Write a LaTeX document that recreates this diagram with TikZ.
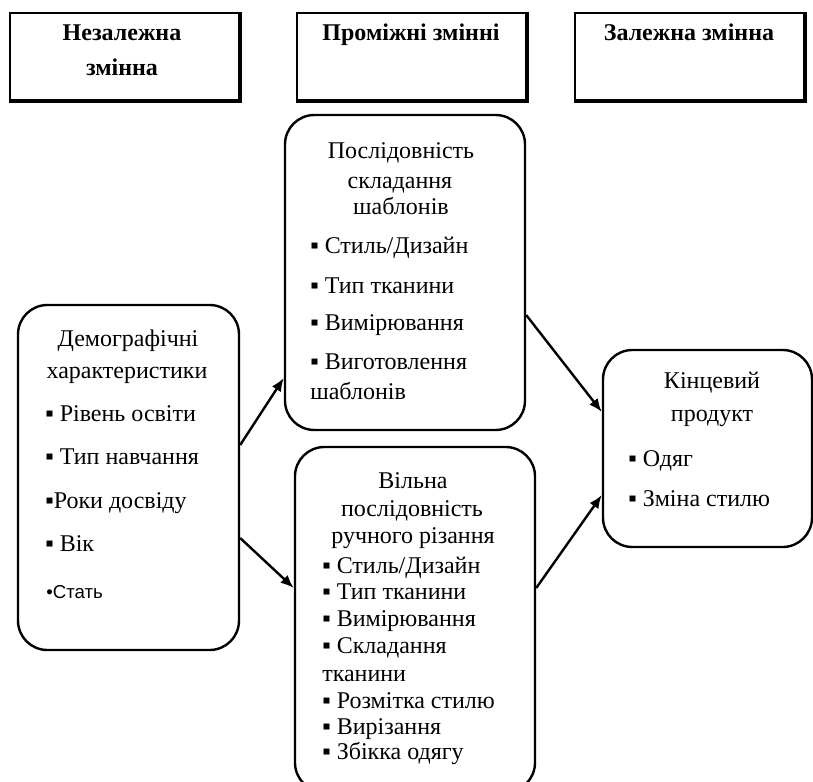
\documentclass[tikz,border=0pt]{standalone}
\usepackage{fontspec}
\setmainfont{Liberation Serif}
\newfontfamily\smallsans{Liberation Sans}
\usetikzlibrary{fit,arrows.meta}
\tikzset{
 headbox/.style={draw,line width=1.6pt,inner sep=0pt},
 roundbox/.style={draw,line width=1.8pt,rounded corners=22pt,inner sep=0pt},
 head/.style={font=\fontsize{18}{20}\selectfont\bfseries,inner sep=0pt,text height=12.6pt,text depth=3.6pt},
 txt/.style={font=\fontsize{18}{20}\selectfont,inner sep=0pt,text height=12.6pt,text depth=3.6pt},
 item/.style={txt,anchor=west},
 link/.style={line width=1.8pt,-{Latex[length=10pt,width=8pt]}}
}
\begin{document}
\begin{tikzpicture}[x=0.75pt,y=-0.75pt]
\useasboundingbox (0,0) rectangle (813,781);

\node[headbox,fit={(10,13) (239,100)}] (indep) {};
\node[headbox,fit={(297,13) (526,100)}] (mid) {};
\node[headbox,fit={(575,13) (804,100)}] (dep) {};
\foreach \b in {indep,mid,dep}
 \draw[line width=2.6pt] (\b.south west) -- (\b.south east) -- (\b.north east);
\node[head] (indepA) at (122,35) {Незалежна};
\node[head] (indepB) at (122,70) {змінна};
\node[head] (midA) at (411,35) {Проміжні змінні};
\node[head] (depA) at (689,35) {Залежна змінна};

\node[roundbox,fit={(18,305) (239,650)}] (demo) {};
\node[txt] (demoA) at (128,340) {Демографічні};
\node[txt] (demoB) at (127,372) {характеристики};
\node[item] (demo1) at (45,415) {▪ Рівень освіти};
\node[item] (demo2) at (45,458) {▪ Тип навчання};
\node[item] (demo3) at (45,502) {▪Роки досвіду};
\node[item] (demo4) at (45,545) {▪ Вік};
\node[item,font=\smallsans\fontsize{14}{16}\selectfont] (demo5) at (46,592) {•Стать};

\node[roundbox,fit={(285,115) (525,430)}] (seqT) {};
\node[txt] (seqTA) at (401,153) {Послідовність};
\node[txt] (seqTB) at (400,182) {складання};
\node[txt] (seqTC) at (401,208) {шаблонів};
\node[item] (seqT1) at (310,247) {▪ Стиль/Дизайн};
\node[item] (seqT2) at (310,287) {▪ Тип тканини};
\node[item] (seqT3) at (310,324) {▪ Вимірювання};
\node[item] (seqT4) at (310,363) {▪ Виготовлення};
\node[item] (seqT5) at (310,393) {шаблонів};

\node[roundbox,fit={(295,447) (535,792)}] (seqB) {};
\node[txt] (seqBA) at (413,482) {Вільна};
\node[txt] (seqBB) at (412,510) {послідовність};
\node[txt] (seqBC) at (413,537) {ручного різання};
\node[item] (seqB1) at (322,567) {▪ Стиль/Дизайн};
\node[item] (seqB2) at (322,593) {▪ Тип тканини};
\node[item] (seqB3) at (322,620) {▪ Вимірювання};
\node[item] (seqB4) at (322,647) {▪ Складання};
\node[item] (seqB5) at (322,675) {тканини};
\node[item] (seqB6) at (322,702) {▪ Розмітка стилю};
\node[item] (seqB7) at (322,728) {▪ Вирізання};
\node[item] (seqB8) at (322,753) {▪ Збікка одягу};

\node[roundbox,fit={(603,350) (812,547)}] (prod) {};
\node[txt] (prodA) at (712,382) {Кінцевий};
\node[txt] (prodB) at (712,415) {продукт};
\node[item] (prod1) at (628,460) {▪ Одяг};
\node[item] (prod2) at (628,500) {▪ Зміна стилю};

\draw[link] ([yshift=24.4pt]demo.east) -- ([yshift=-79.1pt]seqT.west);
\draw[link] ([yshift=-45.4pt]demo.east) -- ([yshift=23.6pt]seqB.west);
\draw[link] ([yshift=-31.9pt]seqT.east) -- ([yshift=27.4pt]prod.west);
\draw[link] ([yshift=23.6pt]seqB.east) -- ([yshift=-34.9pt]prod.west);

\end{tikzpicture}
\end{document}
